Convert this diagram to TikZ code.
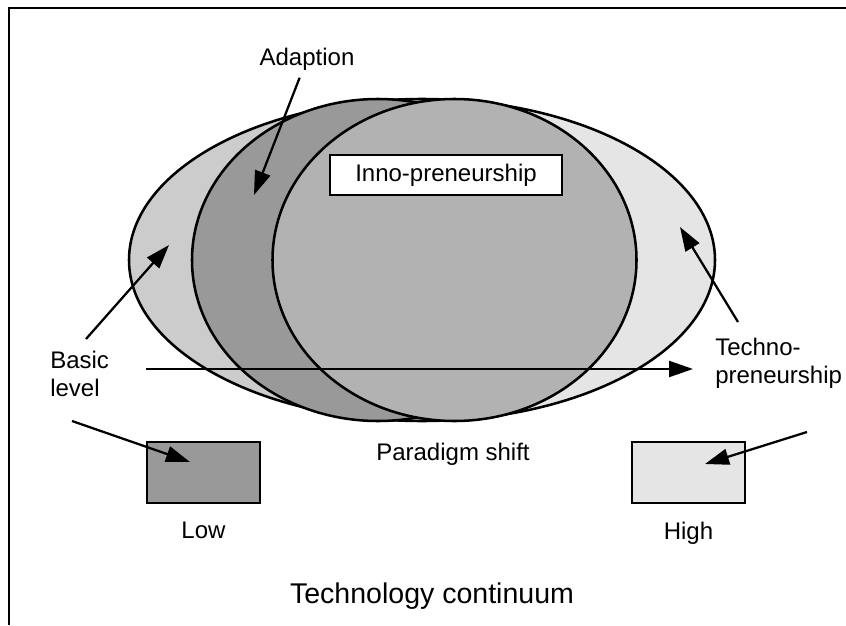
\documentclass[tikz,border=0pt]{standalone}
\usepackage{fontspec}
\setmainfont{Liberation Sans}
\usetikzlibrary{
  arrows.meta,
  positioning}

\definecolor{darkgrey}{gray}{0.6}
\definecolor{midgrey}{gray}{0.7}
\definecolor{lightgrey}{gray}{0.8}
\definecolor{palegrey}{gray}{0.9}

\begin{document}
\begin{tikzpicture}[x=0.75pt,y=-0.75pt,
  outline/.style={line width=1.9pt},
  pointer/.style={line width=1.7pt,-{Triangle[length=18pt,width=12pt]}},
  label/.style={font=\fontsize{18}{21}\selectfont,inner sep=0pt},
  swatch/.style={draw,line width=1.9pt,minimum width=84.75pt,minimum height=45.75pt,inner sep=0pt}]
\useasboundingbox (0,0) rectangle (846,625);
\draw[outline] (9,625) -- (9,8) -- (846,8);
% outer ellipse in two tones
\fill[palegrey] (422,260) ellipse[x radius=293,y radius=161];
\begin{scope}
  \clip (422,260) ellipse[x radius=293,y radius=161];
  \fill[lightgrey] (100,80) rectangle (455,440);
\end{scope}
\draw[outline] (422,260) ellipse[x radius=293,y radius=161];
\filldraw[outline,fill=darkgrey] (378,260) ellipse[x radius=186,y radius=161];
\filldraw[outline,fill=midgrey] (454.5,260) ellipse[x radius=182,y radius=161];
\node[label,draw,outline,fill=white,minimum width=174pt,minimum height=30pt] (inno) at (446,175) {Inno-preneurship};
% boxes
\node[swatch,fill=darkgrey] (lowBox) at (203.5,472.5) {};
\node[swatch,fill=palegrey] (highBox) at (688.5,472.5) {};
\node[label,below=13pt of lowBox] (low) {Low};
\node[label,below=13pt of highBox] (high) {High};
% labels
\node[label,anchor=base] (adaption) at (307,65) {Adaption};
\node[label,align=left,anchor=base west] (basic) at (50,396) {Basic\\level};
\node[label,align=left,anchor=base west] (techno) at (715,383) {Techno-\\preneurship};
\node[label,anchor=base] (shift) at (453,460) {Paradigm shift};
\node[font=\fontsize{21.4}{26}\selectfont,inner sep=0pt,anchor=base] (continuum) at (432,603) {Technology continuum};
% arrow ends
\coordinate (adaptTip) at (254,195);
\coordinate (basicTail) at (86,339);
\coordinate (basicTip) at (169,245);
\coordinate (lowTail) at (72,421);
\coordinate (lowTip) at (190,462);
\coordinate (technoTail) at (738,322);
\coordinate (technoTip) at (680,227);
\coordinate (highTail) at (807,432);
\coordinate (highTip) at (705,464);
\coordinate (shiftTail) at (146,369);
\coordinate (shiftTip) at (693,369);
\draw[pointer,shorten <=6pt] (adaption) -- (adaptTip);
\draw[pointer] (basicTail) -- (basicTip);
\draw[pointer] (lowTail) -- (lowTip);
\draw[pointer] (technoTail) -- (technoTip);
\draw[pointer] (highTail) -- (highTip);
\draw[pointer] (shiftTail) -- (shiftTip);
\end{tikzpicture}
\end{document}
